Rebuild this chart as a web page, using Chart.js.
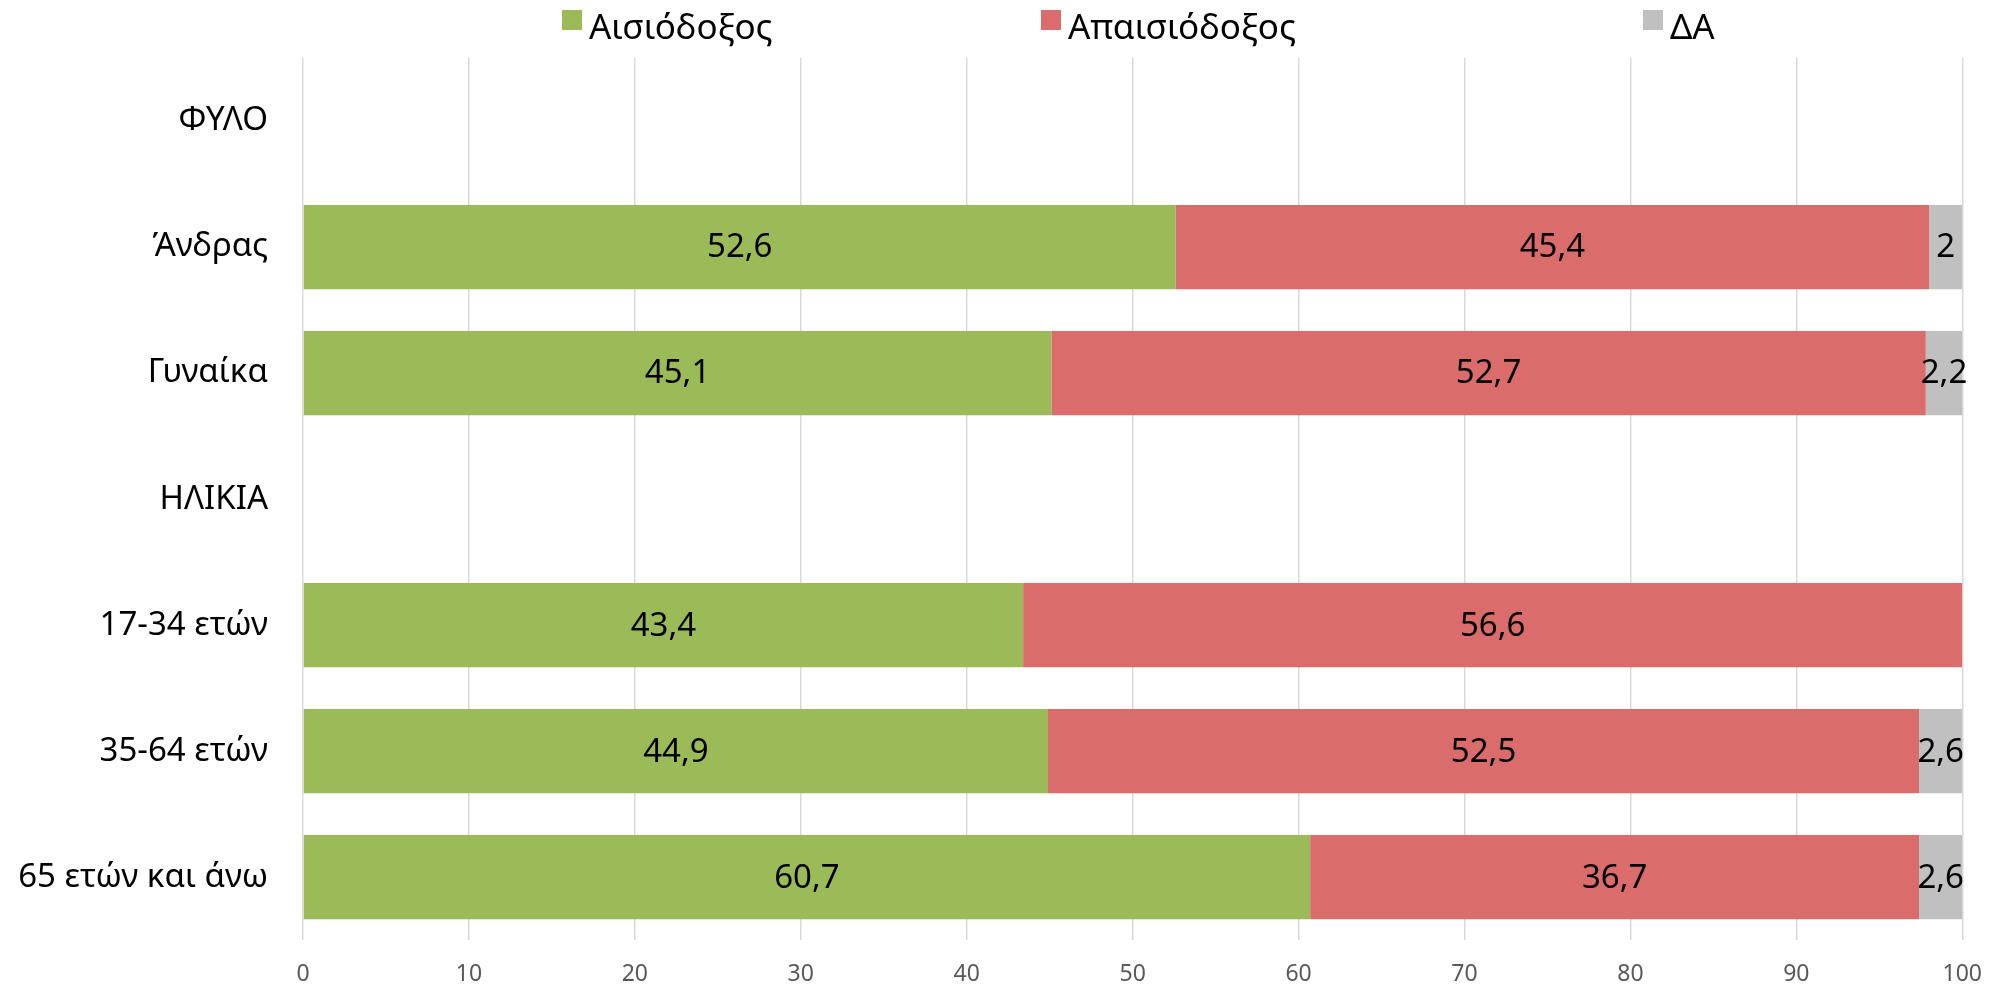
<!DOCTYPE html>
<html>
<head>
<meta charset="utf-8">
<script src="https://cdn.jsdelivr.net/npm/chart.js@4.4.1/dist/chart.umd.min.js"></script>
<style>
  html, body { margin: 0; padding: 0; background: #fff; }
  #wrap { position: relative; width: 2002px; height: 995px; }
  #legend { position: absolute; top: 0; left: 0; width: 2002px; height: 50px;
            font-family: "Noto Sans", sans-serif; font-size: 35px; color: #000; }
  .box { position: absolute; top: 10px; width: 20px; height: 20px; }
  .txt { position: absolute; top: 8px; line-height: 1; white-space: nowrap; }
</style>
</head>
<body>
<div id="wrap">
  <canvas id="chart" width="2002" height="995"></canvas>
  <div id="legend"></div>
</div>
<script>
// Αισιοδοξία ανά φύλο και ηλικία — οριζόντιο 100% stacked

const categories = ["ΦΥΛΟ", "Άνδρας", "Γυναίκα", "ΗΛΙΚΙΑ", "17-34 ετών", "35-64 ετών", "65 ετών και άνω"];
const seriesNames = ["Αισιόδοξος", "Απαισιόδοξος", "ΔΑ"];
const optimistic  = [null, 52.6, 45.1, null, 43.4, 44.9, 60.7];
const pessimistic = [null, 45.4, 52.7, null, 56.6, 52.5, 36.7];
const noAnswer    = [null, 2, 2.2, null, 0, 2.6, 2.6];
const xTicks = [0, 10, 20, 30, 40, 50, 60, 70, 80, 90, 100];

const COLORS = ["#9BBB59", "#DA6C6B", "#C0C0C0"];
const LEGEND_X = [562, 1041, 1643];   // αριστερή άκρη κάθε στοιχείου υπομνήματος
const FONT = "'Noto Sans', sans-serif";

// ===== υπόμνημα (HTML) =====
function buildLegend() {
  const el = document.getElementById("legend");
  seriesNames.forEach((name, i) => {
    const b = document.createElement("span");
    b.className = "box";
    b.style.left = LEGEND_X[i] + "px";
    b.style.background = COLORS[i];
    const t = document.createElement("span");
    t.className = "txt";
    t.style.left = (LEGEND_X[i] + 27) + "px";
    t.textContent = name;
    el.appendChild(b);
    el.appendChild(t);
  });
}

function fmt(v) {
  return String(v).replace(".", ",");
}

// ===== ετικέτες τιμών μέσα στις μπάρες =====
const valueLabels = {
  id: "valueLabels",
  afterDatasetsDraw(chart) {
    const ctx = chart.ctx;
    ctx.save();
    ctx.font = "33px " + FONT;
    ctx.fillStyle = "#000";
    ctx.textAlign = "center";
    ctx.textBaseline = "middle";
    chart.data.datasets.forEach((ds, di) => {
      chart.getDatasetMeta(di).data.forEach((bar, i) => {
        const v = ds.data[i];
        if (v == null || v === 0) return;
        const cx = (bar.x + bar.base) / 2;
        ctx.fillText(fmt(v), cx, bar.y + 1);
      });
    });
    ctx.restore();
  },
};

function initChart() {
  const ctx = document.getElementById("chart").getContext("2d");
  new Chart(ctx, {
    type: "bar",
    data: {
      labels: categories,
      datasets: [optimistic, pessimistic, noAnswer].map((d, i) => ({
        label: seriesNames[i],
        data: d,
        backgroundColor: COLORS[i],
        borderWidth: 0,
        categoryPercentage: 0.668,
        barPercentage: 1.0,
      })),
    },
    options: {
      indexAxis: "y",
      responsive: false,
      animation: false,
      layout: { padding: { top: 58, right: 33, left: 0, bottom: 0 } },
      scales: {
        x: {
          stacked: true,
          min: 0,
          max: 100,
          afterBuildTicks(scale) { scale.ticks = xTicks.map((v) => ({ value: v })); },
          afterFit(scale) { scale.height = 49; },
          grid: { color: "#D9D9D9", lineWidth: 1.5, drawTicks: false },
          border: { display: false },
          ticks: { color: "#595959", padding: 20, font: { family: FONT, size: 23 } },
        },
        y: {
          stacked: true,
          afterFit(scale) { scale.width = 303; },
          grid: { display: false, drawTicks: false },
          border: { display: false },
          ticks: { color: "#000", padding: 35, font: { family: FONT, size: 33 } },
        },
      },
      plugins: {
        legend: { display: false },
        tooltip: { enabled: false },
      },
    },
    plugins: [valueLabels],
  });
}

window.addEventListener("DOMContentLoaded", () => {
  buildLegend();
  initChart();
});
</script>
</body>
</html>
